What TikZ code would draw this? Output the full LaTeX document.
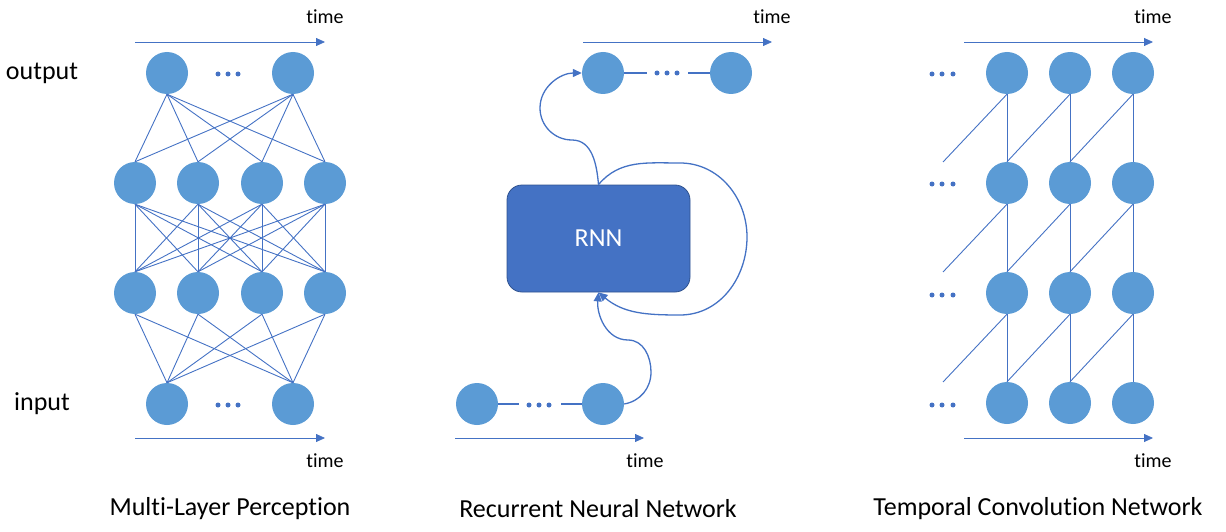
\documentclass[tikz,border=0pt]{standalone}
\usepackage{fontspec}
\setmainfont{Carlito}[Ligatures=NoCommon]
\usetikzlibrary{arrows.meta}
\definecolor{nodefill}{HTML}{5B9BD5}
\definecolor{edge}{HTML}{4472C4}
\definecolor{boxborder}{HTML}{2F528F}
\begin{document}
\begin{tikzpicture}[x=1pt,y=-1pt,
  neuron/.style={circle,fill=nodefill,minimum size=42pt,inner sep=0pt},
  conn/.style={draw=edge,line width=0.9pt},
  timearrow/.style={draw=edge,line width=0.8pt,-{Triangle[length=9pt,width=8pt]}},
  curvearrow/.style={draw=edge,line width=1.3pt},
  timelabel/.style={font=\fontsize{20}{22}\selectfont},
  biglabel/.style={font=\fontsize{26}{28}\selectfont},
  dot/.style={circle,fill=edge,inner sep=0pt,minimum size=5pt}]
\useasboundingbox (0,0) rectangle (1226,532);

% ---------------- MLP ----------------
\node[neuron] (mo1) at (167,73) {};
\node[neuron] (mo2) at (293,73) {};
\foreach \i/\x in {1/135,2/198,3/262,4/325}{
  \node[neuron] (ha\i) at (\x,183) {};
  \node[neuron] (hb\i) at (\x,293) {};
}
\node[neuron] (mi1) at (167,404) {};
\node[neuron] (mi2) at (293,404) {};
\foreach \k/\x in {1/218,2/228,3/238}{
  \node[dot] (mdo\k) at (\x,74) {};
  \node[dot] (mdi\k) at (\x,405) {};
}
\foreach \a in {1,2}{\foreach \b in {1,2,3,4}{
  \draw[conn] (mo\a.south) -- (ha\b.north);
  \draw[conn] (hb\b.south) -- (mi\a.north);
}}
\foreach \a in {1,2,3,4}{\foreach \b in {1,2,3,4}{
  \draw[conn] (ha\a.south) -- (hb\b.north);
}}
\coordinate (mt1) at (135,42); \coordinate (mt2) at (325,42);
\draw[timearrow] (mt1) -- (mt2);
\coordinate (mb1) at (135,438); \coordinate (mb2) at (325,438);
\draw[timearrow] (mb1) -- (mb2);
\node[timelabel] (mtl1) at (325,17) {time};
\node[timelabel] (mtl2) at (325,461) {time};
\node[biglabel] (outl) at (42,73) {output};
\node[biglabel] (inl) at (42,404) {input};
\node[biglabel] (cap1) at (230,509) {Multi-Layer Perception};

% ---------------- RNN ----------------
\node[neuron] (ro1) at (603,73) {};
\node[neuron] (ro2) at (731,73) {};
\node[neuron] (ri1) at (477,404) {};
\node[neuron] (ri2) at (603,404) {};
\foreach \k/\x in {1/657,2/667,3/677}{
  \node[dot] (rdo\k) at (\x,73) {};
}
\foreach \k/\x in {1/529,2/539,3/549}{
  \node[dot] (rdi\k) at (\x,405) {};
}
\coordinate (ra1) at (647,73); \coordinate (ra2) at (688,73);
\draw[conn,line width=1.3pt] (ro1.east) -- (ra1);
\draw[conn,line width=1.3pt] (ra2) -- (ro2.west);
\coordinate (rb1) at (519,404); \coordinate (rb2) at (561,404);
\draw[conn,line width=1.3pt] (ri1.east) -- (rb1);
\draw[conn,line width=1.3pt] (rb2) -- (ri2.west);
\node[draw=boxborder,line width=0.8pt,fill=edge,rounded corners=15pt,
  minimum width=183pt,minimum height=107pt,text=white,
  font=\fontsize{26}{28}\selectfont] (rnn) at (598.5,238.5) {RNN};
\coordinate (rc1) at (572,140);
\coordinate (rc2) at (540,108);
\draw[curvearrow,-{Triangle[length=9pt,width=8pt]}] (rnn.north) to[out=95,in=0] (rc1)
  to[out=180,in=-90] (rc2) to[out=90,in=180] (ro1.west);
\coordinate (rl1) at (680,163);
\coordinate (rl2) at (747,237);
\coordinate (rl3) at (680,315);
\draw[curvearrow,-{Triangle[length=9pt,width=8pt]}] (rnn.north) to[out=50,in=180] (rl1)
  to[out=0,in=90] (rl2) to[out=-90,in=0] (rl3) to[out=180,in=-40] (rnn.south);
\coordinate (rm1) at (651,372);
\coordinate (rm2) at (628,340);
\draw[curvearrow,-{Triangle[length=9pt,width=8pt]}] (ri2.east) to[out=10,in=-90] (rm1)
  to[out=90,in=0] (rm2) to[out=180,in=-95] (rnn.south);
\coordinate (rt1) at (583,42); \coordinate (rt2) at (772,42);
\draw[timearrow] (rt1) -- (rt2);
\coordinate (rtb1) at (455,438); \coordinate (rtb2) at (644,438);
\draw[timearrow] (rtb1) -- (rtb2);
\node[timelabel] (rtl1) at (772,17) {time};
\node[timelabel] (rtl2) at (645,461) {time};
\node[biglabel] (cap2) at (598,509) {Recurrent Neural Network};

% ---------------- TCN ----------------
\foreach \c/\x in {0/1007,1/1070,2/1133}{
  \foreach \r/\y in {0/73,1/183,2/293,3/403}{
    \node[neuron] (t\c\r) at (\x,\y) {};
  }
}
\foreach \r/\y in {0/74,1/184,2/295,3/405}{
  \foreach \k/\x in {1/932,2/942,3/953}{
    \node[dot] (td\r\k) at (\x,\y) {};
  }
}
\foreach \c in {0,1,2}{
  \draw[conn] (t\c0.south) -- (t\c1.north);
  \draw[conn] (t\c1.south) -- (t\c2.north);
  \draw[conn] (t\c2.south) -- (t\c3.north);
}
\foreach \r/\s in {0/1,1/2,2/3}{
  \draw[conn] (t1\r.south) -- (t0\s.north);
  \draw[conn] (t2\r.south) -- (t1\s.north);
}
\coordinate (tf1) at (943,162);
\coordinate (tf2) at (943,272);
\coordinate (tf3) at (943,382);
\draw[conn] (t00.south) -- (tf1);
\draw[conn] (t01.south) -- (tf2);
\draw[conn] (t02.south) -- (tf3);
\coordinate (tt1) at (964,42); \coordinate (tt2) at (1153,42);
\draw[timearrow] (tt1) -- (tt2);
\coordinate (ttb1) at (964,438); \coordinate (ttb2) at (1153,438);
\draw[timearrow] (ttb1) -- (ttb2);
\node[timelabel] (ttl1) at (1153,17) {time};
\node[timelabel] (ttl2) at (1153,461) {time};
\node[biglabel] (cap3) at (1038,509) {Temporal Convolution Network};
\end{tikzpicture}
\end{document}
